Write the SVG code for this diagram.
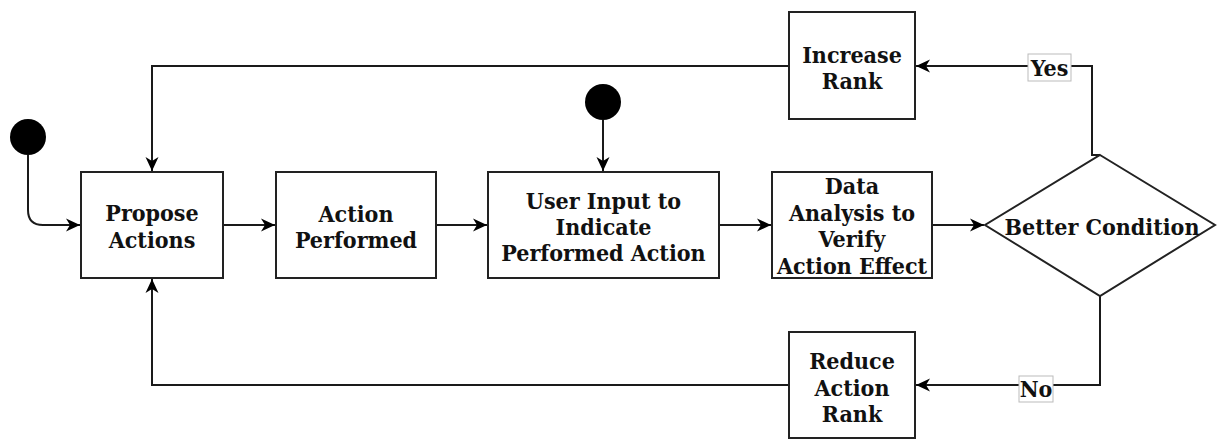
<svg xmlns="http://www.w3.org/2000/svg" width="1217" height="439" viewBox="0 0 1217 439">
<style>
.n{fill:#fff;stroke:#222;stroke-width:2}
.t{font-family:"DejaVu Serif Condensed","DejaVu Serif","Liberation Serif",serif;font-stretch:condensed;font-weight:bold;font-size:23px;fill:#111;text-anchor:middle}
.c{fill:none;stroke:#1a1a1a;stroke-width:2}
.s{fill:#000}
.lb{fill:#fff;stroke:#bbb;stroke-width:1}
</style>
<defs>
<marker id="a" markerUnits="userSpaceOnUse" markerWidth="16" markerHeight="16" refX="14" refY="8" orient="auto">
<path d="M0,1.5 L14,8 L0,14.5 L4,8 z" fill="#000"/>
</marker>
</defs>
<g id="connectors">
<path class="c" d="M28,155 V210 Q28,225 43,225 H80" marker-end="url(#a)"/>
<path class="c" d="M223,225 H275" marker-end="url(#a)"/>
<path class="c" d="M436,225 H487" marker-end="url(#a)"/>
<path class="c" d="M603,120 V171" marker-end="url(#a)"/>
<path class="c" d="M719,225 H771" marker-end="url(#a)"/>
<path class="c" d="M932,225 H984" marker-end="url(#a)"/>
<path class="c" d="M1100,155 H1092 V66 H916" marker-end="url(#a)"/>
<path class="c" d="M1100,296 V385 H916" marker-end="url(#a)"/>
<path class="c" d="M789,66 H152 V171" marker-end="url(#a)"/>
<path class="c" d="M789,385 H152 V279" marker-end="url(#a)"/>
<g id="label-yes"><rect class="lb" x="1028" y="54" width="43" height="27"/><text class="t" x="1049.5" y="76">Yes</text></g>
<g id="label-no"><rect class="lb" x="1019" y="376" width="34" height="26"/><text class="t" x="1036" y="397">No</text></g>
</g>
<g id="start1"><circle class="s" cx="28" cy="137" r="18"/></g>
<g id="start2"><circle class="s" cx="603" cy="102" r="18"/></g>
<g id="propose"><rect class="n" x="81" y="172" width="142" height="106"/><text class="t" x="152" y="221">Propose</text><text class="t" x="152" y="248">Actions</text></g>
<g id="performed"><rect class="n" x="276" y="172" width="160" height="106"/><text class="t" x="356" y="222">Action</text><text class="t" x="356" y="248">Performed</text></g>
<g id="userinput"><rect class="n" x="488" y="172" width="231" height="106"/><text class="t" x="603.5" y="209">User Input to</text><text class="t" x="603.5" y="235">Indicate</text><text class="t" x="603.5" y="261">Performed Action</text></g>
<g id="analysis"><rect class="n" x="772" y="172" width="160" height="106"/><text class="t" x="852" y="194">Data</text><text class="t" x="852" y="221">Analysis to</text><text class="t" x="852" y="247">Verify</text><text class="t" x="852" y="274">Action Effect</text></g>
<g id="decision"><polygon class="n" points="1100,155 1215,225 1100,296 985,225"/><text class="t" x="1102" y="235">Better Condition</text></g>
<g id="increase"><rect class="n" x="789" y="12" width="126" height="107"/><text class="t" x="852" y="63">Increase</text><text class="t" x="852" y="89">Rank</text></g>
<g id="reduce"><rect class="n" x="789" y="332" width="126" height="106"/><text class="t" x="852" y="369">Reduce</text><text class="t" x="852" y="396">Action</text><text class="t" x="852" y="422">Rank</text></g>
</svg>
